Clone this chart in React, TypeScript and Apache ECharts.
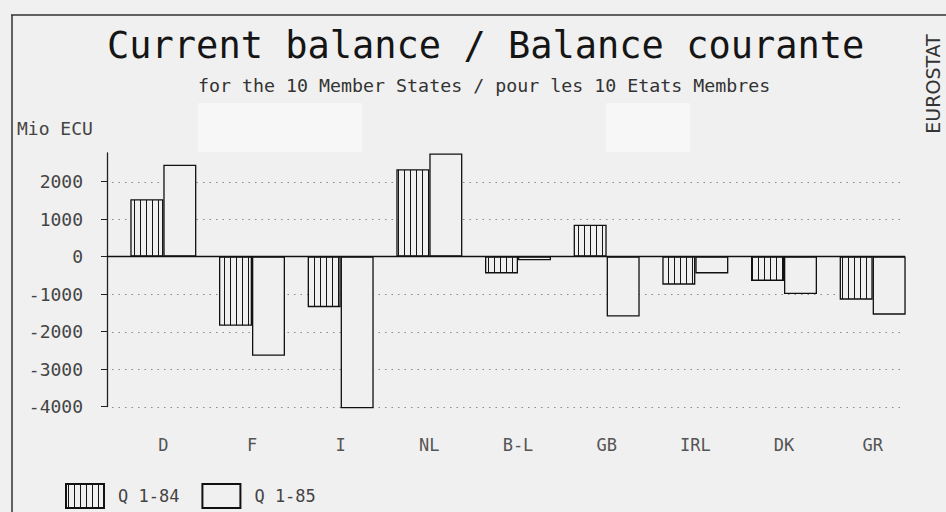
import React, { useEffect, useRef } from "react";
import * as echarts from "echarts";

const TITLE = "Current balance / Balance courante";
const SUBTITLE = "for the 10 Member States / pour les 10 Etats Membres";
const UNIT = "Mio ECU";
const SOURCE = "EUROSTAT";

const categories = ["D", "F", "I", "NL", "B-L", "GB", "IRL", "DK", "GR"];
const seriesNames = ["Q 1-84", "Q 1-85"];
const q184 = [1525, -1850, -1350, 2325, -450, 850, -750, -650, -1150];
const q185 = [2450, -2650, -4050, 2750, -100, -1600, -450, -1000, -1550];
const yTicks = [-4000, -3000, -2000, -1000, 0, 1000, 2000];
const gridValues = [-4000, -3000, -2000, -1000, 1000, 2000];

const BG = "#f0f0f0";
const MONO = "DejaVu Sans Mono";

export default function App() {
  const ref = useRef<HTMLDivElement>(null);

  useEffect(() => {
    document.body.style.margin = "0";
    if (!ref.current) return;
    const chart = echarts.init(ref.current, undefined, { renderer: "svg" });

    const c = document.createElement("canvas");
    c.width = 6;
    c.height = 6;
    const ctx = c.getContext("2d")!;
    ctx.fillStyle = BG;
    ctx.fillRect(0, 0, 6, 6);
    ctx.fillStyle = "#151515";
    ctx.fillRect(2, 0, 1, 6);
    const hatch: any = { image: c, repeat: "repeat" };

    const option: any = {
      animation: false,
      backgroundColor: BG,
      title: [
        {
          text: TITLE,
          left: 107,
          top: 27,
          padding: 0,
          textStyle: { fontFamily: MONO, fontSize: 37, fontWeight: "normal", color: "#151515" },
        },
        {
          text: SUBTITLE,
          left: 198,
          top: 76,
          padding: 0,
          textStyle: { fontFamily: MONO, fontSize: 18.3, fontWeight: "normal", color: "#333" },
        },
      ],
      grid: { left: 119, right: 29, top: 153, bottom: 105.5 },
      legend: {
        data: seriesNames,
        left: 65,
        top: 483,
        padding: 0,
        icon: "rect",
        itemWidth: 38,
        itemHeight: 24,
        itemGap: 22,
        textStyle: { fontFamily: MONO, fontSize: 17, color: "#444", padding: [0, 0, 0, 9] },
      },
      xAxis: {
        type: "category",
        data: categories,
        axisLine: { show: false, onZero: false },
        axisTick: { show: false },
        splitLine: { show: false },
        axisLabel: { margin: 30, fontFamily: MONO, fontSize: 17, color: "#555" },
      },
      yAxis: {
        type: "value",
        min: -4000,
        max: 2760,
        offset: 12,
        axisLine: { show: true, lineStyle: { color: "#222", width: 1.3 } },
        axisTick: { show: true, length: 6, inside: false, customValues: yTicks, lineStyle: { color: "#222" } },
        axisLabel: {
          customValues: yTicks,
          margin: 24,
          fontFamily: MONO,
          fontSize: 18,
          color: "#444",
          formatter: (v: number) => String(v),
        },
        splitLine: { show: false },
      },
      series: [
        {
          name: seriesNames[0],
          type: "bar",
          data: q184,
          barWidth: 33,
          barGap: "0%",
          clip: false,
          itemStyle: { color: hatch, borderColor: "#111", borderWidth: 1.3 },
        },
        {
          name: seriesNames[1],
          type: "bar",
          data: q185,
          barWidth: 33,
          barGap: "0%",
          clip: false,
          itemStyle: { color: BG, borderColor: "#111", borderWidth: 1.3 },
        },
      ],
    };
    chart.setOption(option);

    const yPix = (v: number) => chart.convertToPixel({ yAxisIndex: 0 }, v) as number;
    const graphics: any[] = [];
    // scanner-like light patches
    graphics.push({ type: "rect", z: -10, shape: { x: 198, y: 103, width: 164, height: 49 }, style: { fill: "#f7f7f7" } });
    graphics.push({ type: "rect", z: -10, shape: { x: 606, y: 103, width: 84, height: 49 }, style: { fill: "#f7f7f7" } });
    // frame
    graphics.push({ type: "line", shape: { x1: 11, y1: 15, x2: 946, y2: 15 }, style: { stroke: "#333", lineWidth: 1.5 } });
    graphics.push({ type: "line", shape: { x1: 12, y1: 15, x2: 12, y2: 512 }, style: { stroke: "#333", lineWidth: 1.5 } });
    // grid lines
    gridValues.forEach((v) => {
      const y = Math.round(yPix(v)) + 0.5;
      graphics.push({
        type: "line",
        z: -1,
        shape: { x1: 112, y1: y, x2: 905, y2: y },
        style: { stroke: "#8a8a8a", lineWidth: 1, lineDash: [1.5, 5] },
      });
    });
    // zero line
    const y0 = yPix(0);
    graphics.push({ type: "line", z: 10, shape: { x1: 107, y1: y0, x2: 905, y2: y0 }, style: { stroke: "#111", lineWidth: 1.5 } });
    // unit
    graphics.push({
      type: "text",
      x: 17,
      y: 128,
      style: { text: UNIT, fontFamily: MONO, fontSize: 18, fill: "#444", verticalAlign: "middle", align: "left" },
    });
    // source
    graphics.push({
      type: "text",
      x: 933,
      y: 84,
      rotation: Math.PI / 2,
      style: { text: SOURCE, fontFamily: "DejaVu Sans", fontSize: 19, fill: "#333", verticalAlign: "middle", align: "center" },
    });
    chart.setOption({ graphic: graphics });

    return () => chart.dispose();
  }, []);

  return <div ref={ref} style={{ width: 946, height: 512 }} />;
}
